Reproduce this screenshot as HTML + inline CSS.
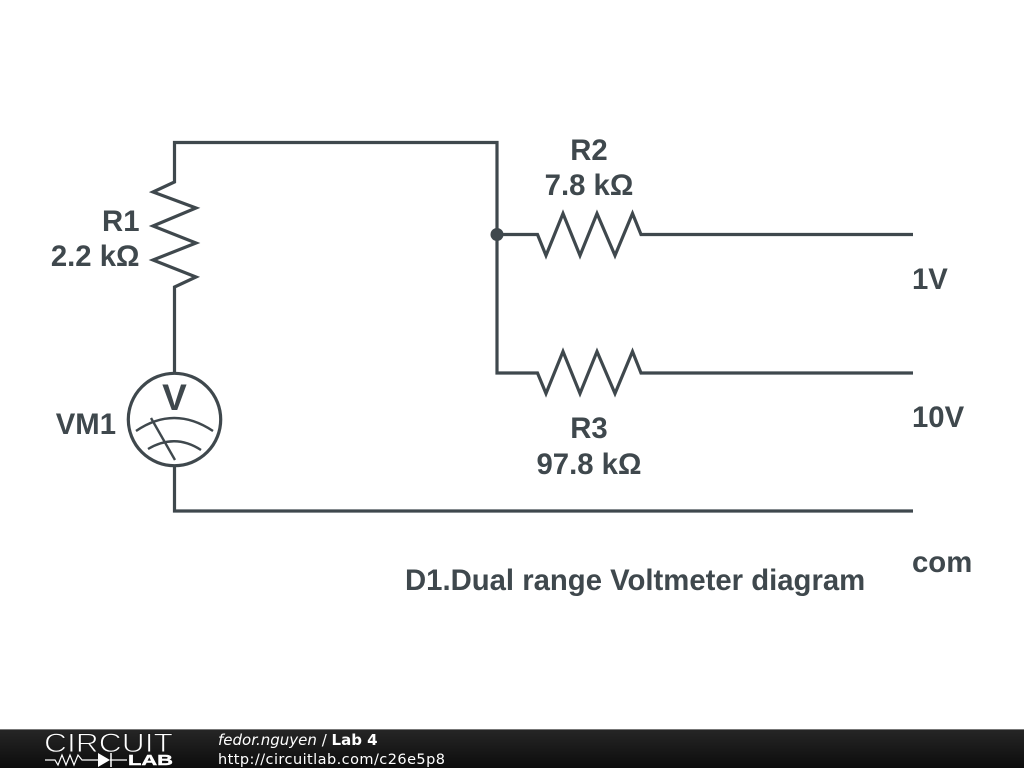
<!DOCTYPE html>
<html>
<head>
<meta charset="utf-8">
<style>
html,body{margin:0;padding:0;background:#fff;width:1024px;height:768px;overflow:hidden}
svg{display:block}
.t{font-family:"Liberation Sans",sans-serif;font-weight:bold;font-size:29.3px;fill:#3f484d}
.f{font-family:"DejaVu Sans",sans-serif;font-size:14.5px;fill:#fff}
</style>
</head>
<body>
<svg width="1024" height="768" viewBox="0 0 1024 768" xmlns="http://www.w3.org/2000/svg">
<defs>
<linearGradient id="g" x1="0" y1="0" x2="0" y2="1">
<stop offset="0" stop-color="#262626"/><stop offset="1" stop-color="#0c0c0c"/>
</linearGradient>
</defs>
<rect width="1024" height="768" fill="#fff"/>
<g fill="none" stroke="#3f484d" stroke-width="3.2" stroke-linejoin="miter">
<path d="M174.5 373V287L196 277L153 260L196 243L153 226L196 208L153 192L174.5 182V142.5H497V373H537.5L546 393.5L563 351.5L580 393.5L597 351.5L615 393.5L632.5 351.5L641 373H913"/>
<path d="M497 234.5H537.5L546 255.5L563 213.500L580 255.5L597 213.500L615 255.5L632.5 213.500L641 234.5H913"/>
<path d="M174.5 466V511H913"/>
<circle cx="174.5" cy="419.5" r="46.2"/>
</g>
<g fill="none" stroke="#3f484d" stroke-width="2.4">
<path d="M136 431Q174 405 213 431"/>
<path d="M148 449Q175 433 201 450"/>
<path d="M151 418L175 460"/>
</g>
<circle cx="497" cy="234.5" r="6.5" fill="#3f484d"/>
<text class="t" x="174.5" y="410" text-anchor="middle" style="font-size:37px">V</text>
<text class="t" x="139.500" y="231" text-anchor="end">R1</text>
<text class="t" x="139.500" y="266" text-anchor="end">2.2 kΩ</text>
<text class="t" x="116" y="434" text-anchor="end">VM1</text>
<text class="t" x="589" y="160" text-anchor="middle">R2</text>
<text class="t" x="589" y="195" text-anchor="middle">7.8 kΩ</text>
<text class="t" x="589" y="438" text-anchor="middle">R3</text>
<text class="t" x="589" y="474" text-anchor="middle">97.8 kΩ</text>
<text class="t" x="912" y="289">1V</text>
<text class="t" x="912" y="427">10V</text>
<text class="t" x="912" y="572">com</text>
<text class="t" x="405" y="590">D1.Dual range Voltmeter diagram</text>
<rect x="0" y="729" width="1024" height="39" fill="url(#g)"/>
<rect x="0" y="729" width="1024" height="1" fill="#777"/>
<text x="44" y="752" font-family="Liberation Sans,sans-serif" font-size="27" fill="#fff" stroke="#1c1c1c" stroke-width="0.9" textLength="129" lengthAdjust="spacingAndGlyphs">CIRCUIT</text>
<path d="M45 760H55L58 765L62 755L66 765L70 755L74 765L78 755L82 760H99M110 760H127" fill="none" stroke="#fff" stroke-width="1.2"/>
<path d="M98 753L110 760L98 767Z" fill="#fff"/>
<path d="M111 753V767" stroke="#fff" stroke-width="1.5"/>
<text x="128" y="765" font-family="Liberation Sans,sans-serif" font-weight="bold" font-size="15" fill="#fff" stroke="#fff" stroke-width="0.4" textLength="45" lengthAdjust="spacingAndGlyphs">LAB</text>
<text class="f" x="218" y="745" style="font-size:15px"><tspan font-style="italic">fedor.nguyen</tspan> / <tspan font-weight="bold">Lab 4</tspan></text>
<text class="f" x="218" y="764" textLength="227">http://circuitlab.com/c26e5p8</text>
</svg>
</body>
</html>
